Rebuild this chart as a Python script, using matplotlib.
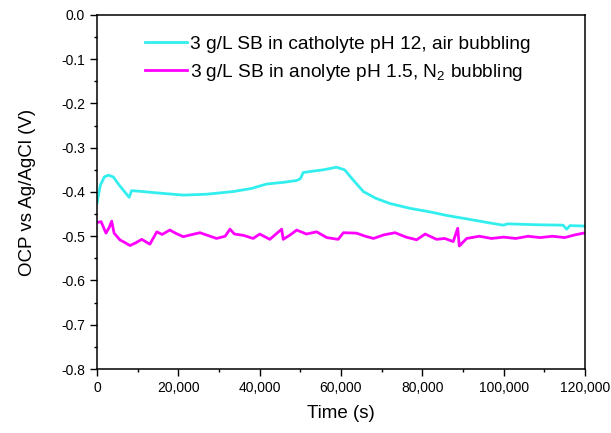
import matplotlib
matplotlib.use("Agg")
import matplotlib.pyplot as plt
from matplotlib.ticker import MultipleLocator, FuncFormatter

plt.rcParams["font.family"] = ["Liberation Sans", "DejaVu Sans"]
plt.rcParams["axes.unicode_minus"] = False

# catholyte pH 12, air bubbling
t_cath = [0, 800, 1800, 2800, 4000, 5500, 7000, 7900, 8500, 10000, 14700, 21200,
          27000, 33500, 38000, 41700, 46000, 49100, 50000, 50700, 53000, 55600,
          58900, 60900, 63000, 65500, 68500, 72000, 77000, 81900, 86000, 91700,
          96000, 99900, 101000, 108000, 114600, 115500, 116300, 120000]
v_cath = [-0.425, -0.385, -0.366, -0.362, -0.366, -0.385, -0.402, -0.412, -0.397,
          -0.398, -0.402, -0.407, -0.405, -0.399, -0.392, -0.382, -0.378, -0.374,
          -0.370, -0.356, -0.353, -0.350, -0.344, -0.350, -0.373, -0.399, -0.414,
          -0.426, -0.437, -0.445, -0.453, -0.462, -0.469, -0.475, -0.472, -0.474,
          -0.475, -0.484, -0.476, -0.477]

# anolyte pH 1.5, N2 bubbling
t_anol = [0, 1000, 2200, 3000, 3600, 4200, 5600, 7000, 8100, 9500, 11000, 13000,
          14700, 16000, 17900, 19500, 21200, 23000, 25300, 27500, 29400, 31500,
          32700, 33800, 36000, 38400, 40000, 42500, 45400, 45800, 47500, 49100,
          51500, 54000, 56500, 59300, 60600, 63800, 66000, 68000, 70500, 73300,
          76000, 78600, 80700, 83500, 85500, 87600, 88700, 89100, 90900, 94000,
          97000, 100000, 103000, 106000, 109000, 112000, 115000, 117500, 119600]
v_anol = [-0.469, -0.467, -0.493, -0.480, -0.466, -0.493, -0.508, -0.515, -0.521,
          -0.515, -0.507, -0.518, -0.490, -0.496, -0.486, -0.494, -0.501, -0.497,
          -0.492, -0.499, -0.505, -0.500, -0.484, -0.495, -0.498, -0.505, -0.495,
          -0.507, -0.484, -0.507, -0.497, -0.486, -0.495, -0.490, -0.503, -0.507,
          -0.492, -0.493, -0.500, -0.505, -0.497, -0.492, -0.502, -0.508, -0.495,
          -0.507, -0.505, -0.512, -0.482, -0.522, -0.505, -0.500, -0.505, -0.502,
          -0.505, -0.500, -0.503, -0.500, -0.503, -0.497, -0.493]

lab_cath = "3 g/L SB in catholyte pH 12, air bubbling"
lab_anol = "3 g/L SB in anolyte pH 1.5, $\\mathregular{N_2}$ bubbling"

fig = plt.figure(figsize=(6.11, 4.33), dpi=100)
ax = fig.add_axes([0.1588, 0.1478, 0.7986, 0.8176])

ax.plot(t_cath, v_cath, color="#33eeee", lw=2, label=lab_cath)
ax.plot(t_anol, v_anol, color="#ff00ff", lw=2, label=lab_anol)

ax.set_xlim(0, 120000)
ax.set_ylim(-0.8, 0.0)
ax.xaxis.set_major_locator(MultipleLocator(20000))
ax.xaxis.set_minor_locator(MultipleLocator(10000))
ax.yaxis.set_major_locator(MultipleLocator(0.1))
ax.yaxis.set_minor_locator(MultipleLocator(0.05))
ax.xaxis.set_major_formatter(FuncFormatter(lambda v, p: f"{int(v):,}"))
ax.yaxis.set_major_formatter(FuncFormatter(lambda v, p: f"{v:.1f}"))
ax.tick_params(which="both", direction="out", labelsize=10, width=1)
ax.tick_params(which="major", length=5)
ax.tick_params(which="minor", length=2.5)
for s in ax.spines.values():
    s.set_linewidth(1.1)

ax.set_xlabel("Time (s)", fontsize=13.5, labelpad=7)
ax.set_ylabel("OCP vs Ag/AgCl (V)", fontsize=13.5, labelpad=18)

ax.legend(loc="upper left", bbox_to_anchor=(0.0635, 0.99), frameon=False,
          fontsize=13.8, handlelength=2.2, handletextpad=0.15, labelspacing=0.45)

fig.savefig("out.png", dpi=100)
